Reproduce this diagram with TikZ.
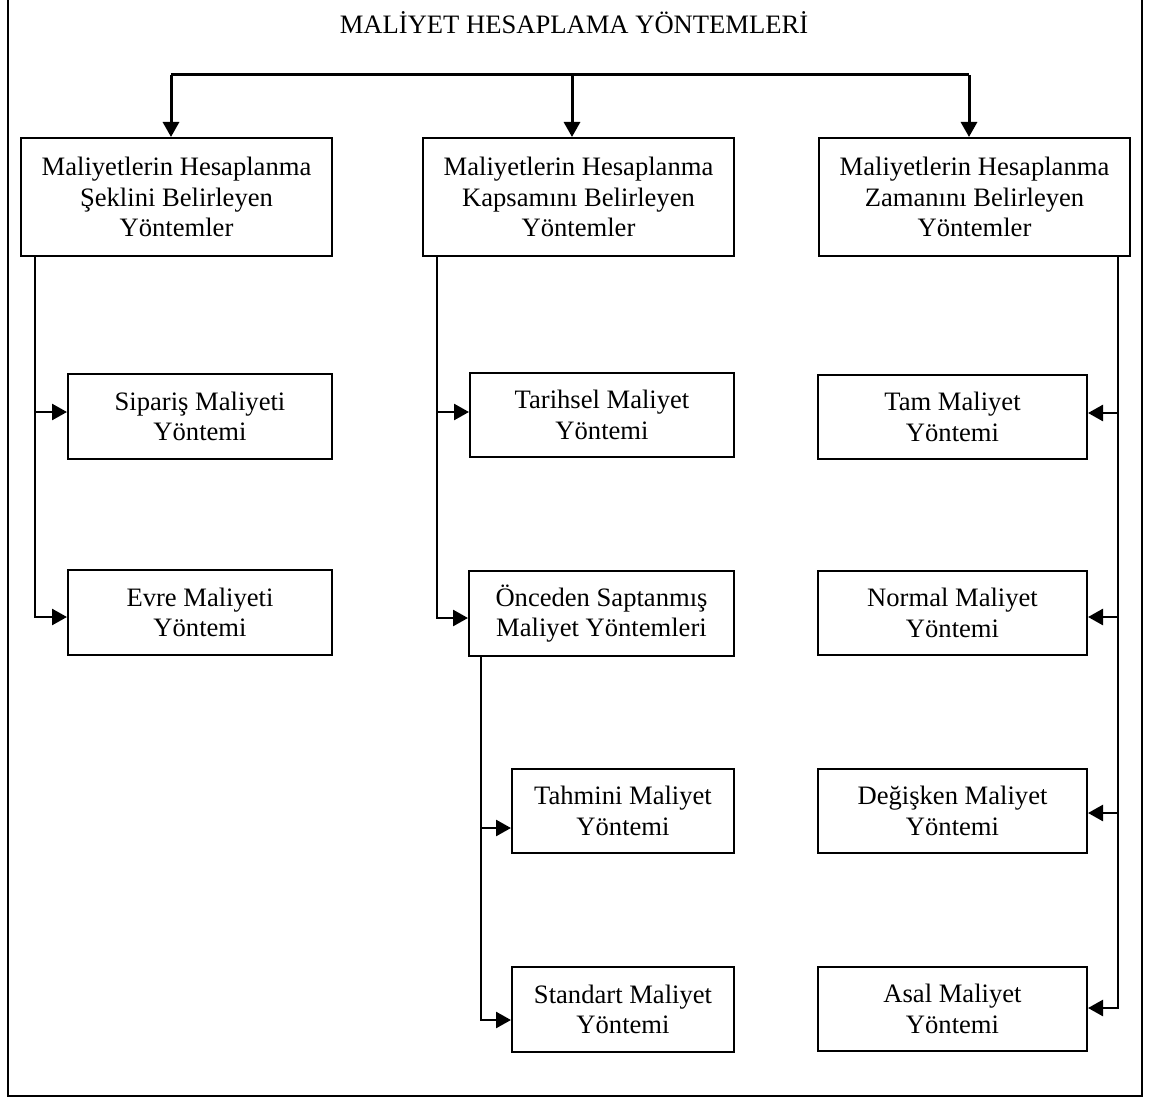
\documentclass[tikz,border=0pt]{standalone}
\usepackage{fontspec}
\setmainfont{Liberation Serif}
\usetikzlibrary{arrows.meta}

\begin{document}
\begin{tikzpicture}[x=1pt,y=-1pt,
  box/.style={draw,line width=2pt,inner sep=0pt,align=center,
    font=\fontsize{26.6}{30.5}\selectfont},
  headbox/.style={box,minimum width=311pt,minimum height=118pt},
  conn/.style={line width=2.6pt},
  arr/.style={conn,-{Triangle[length=15pt,width=16pt]}},
  toparr/.style={line width=3pt,-{Triangle[length=15pt,width=16pt]}}]

\useasboundingbox (0,0) rectangle (1150,1097);

% outer frame
\draw[line width=2.4pt] (8,-10) rectangle (1142,1096);

% title
\node[anchor=base,font=\fontsize{26.6}{30.5}\selectfont] (title) at (574,34)
  {MALİYET HESAPLAMA YÖNTEMLERİ};

% three groups
\node[headbox] (b1) at (176.5,197) {Maliyetlerin Hesaplanma\\Şeklini Belirleyen\\Yöntemler};
\node[headbox] (b2) at (578.5,197) {Maliyetlerin Hesaplanma\\Kapsamını Belirleyen\\Yöntemler};
\node[headbox] (b3) at (974.5,197) {Maliyetlerin Hesaplanma\\Zamanını Belirleyen\\Yöntemler};

% left column
\node[box,minimum width=264pt,minimum height=85pt] (sip) at (200,416.5) {Sipariş Maliyeti\\Yöntemi};
\node[box,minimum width=264pt,minimum height=85pt] (evre) at (200,612.5) {Evre Maliyeti\\Yöntemi};

% middle column
\node[box,minimum width=264pt,minimum height=84pt] (tar) at (602,415) {Tarihsel Maliyet\\Yöntemi};
\node[box,minimum width=265pt,minimum height=85pt] (onc) at (601.5,613.5) {Önceden Saptanmış\\Maliyet Yöntemleri};
\node[box,minimum width=222pt,minimum height=84pt] (tah) at (623,811) {Tahmini Maliyet\\Yöntemi};
\node[box,minimum width=222pt,minimum height=85pt] (std) at (623,1009.5) {Standart Maliyet\\Yöntemi};

% right column
\node[box,minimum width=269pt,minimum height=84pt] (tam) at (952.5,417) {Tam Maliyet\\Yöntemi};
\node[box,minimum width=269pt,minimum height=84pt] (nor) at (952.5,613) {Normal Maliyet\\Yöntemi};
\node[box,minimum width=269pt,minimum height=84pt] (deg) at (952.5,811) {Değişken Maliyet\\Yöntemi};
\node[box,minimum width=269pt,minimum height=84pt] (asal) at (952.5,1009) {Asal Maliyet\\Yöntemi};

% top distribution bar
\coordinate (hl) at (171,75);
\coordinate (hm) at (572,75);
\coordinate (hr) at (969,75);
\draw[line width=3pt] (hl) -- (hr);
\draw[toparr] (hl) -- (hl |- b1.north);
\draw[toparr] (hm) -- (hm |- b2.north);
\draw[toparr] (hr) -- (hr |- b3.north);

% left trunk
\coordinate (lt) at (35,256);
\draw[arr] (lt) -- (35,617) -- (evre.west |- 0,617);
\draw[arr] (35,412) -- (sip.west |- 0,412);

% middle trunk
\coordinate (mt) at (437,256);
\draw[arr] (mt) -- (437,618) -- (onc.west |- 0,618);
\draw[arr] (437,412) -- (tar.west |- 0,412);

% sub-trunk under the predetermined methods
\coordinate (st) at (481,656);
\draw[arr] (st) -- (481,1020) -- (std.west |- 0,1020);
\draw[arr] (481,828) -- (tah.west |- 0,828);

% right trunk
\coordinate (rt) at (1118,256);
\draw[arr] (rt) -- (1118,1008) -- (asal.east |- 0,1008);
\draw[arr] (1118,413) -- (tam.east |- 0,413);
\draw[arr] (1118,617) -- (nor.east |- 0,617);
\draw[arr] (1118,813) -- (deg.east |- 0,813);

\end{tikzpicture}
\end{document}
